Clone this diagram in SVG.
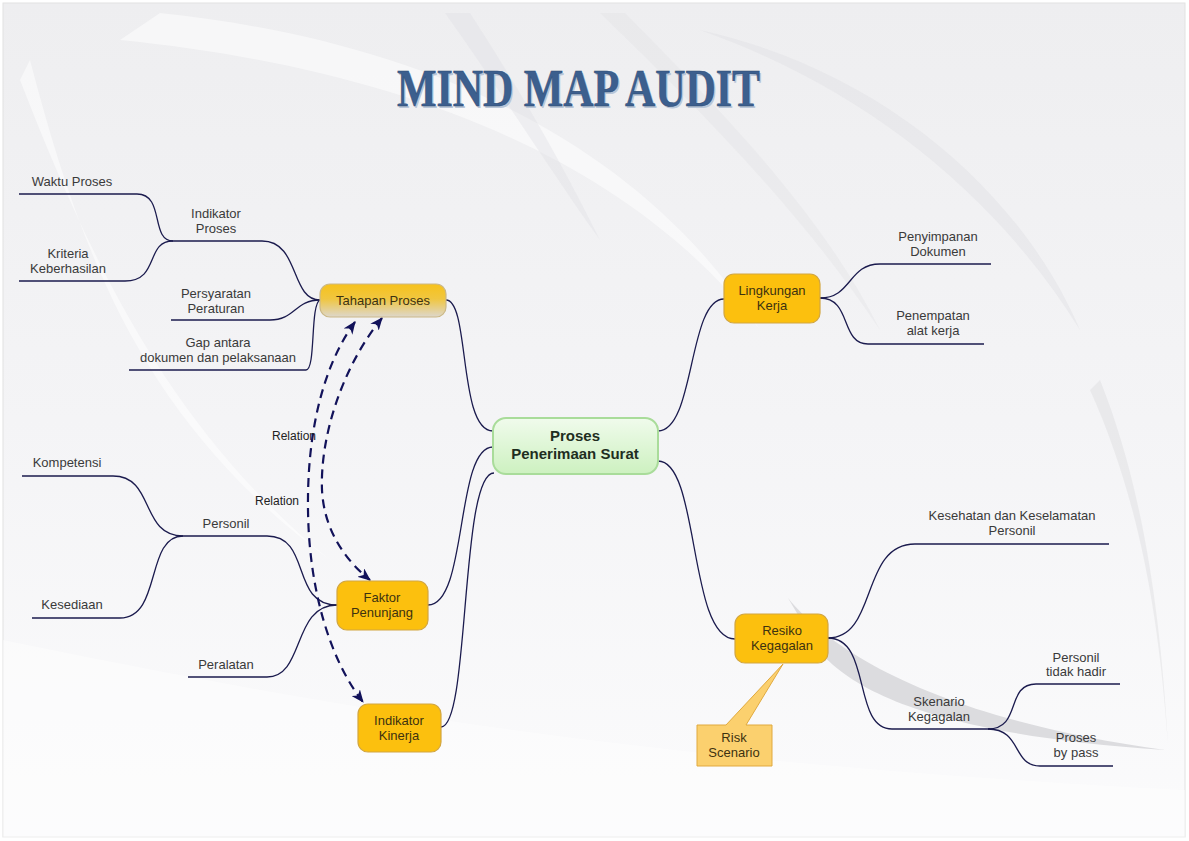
<svg xmlns="http://www.w3.org/2000/svg" width="1189" height="841" viewBox="0 0 1189 841">
<defs>
<linearGradient id="bg" x1="0" y1="0" x2="0" y2="1">
<stop offset="0" stop-color="#eeeef0"/>
<stop offset="0.5" stop-color="#f4f4f6"/>
<stop offset="1" stop-color="#fbfbfc"/>
</linearGradient>
<linearGradient id="tah" x1="0" y1="0" x2="0" y2="1">
<stop offset="0" stop-color="#f7c21c"/>
<stop offset="0.45" stop-color="#f0c640"/>
<stop offset="1" stop-color="#ddd7cc"/>
</linearGradient>
<linearGradient id="cen" x1="0" y1="0" x2="0" y2="1">
<stop offset="0" stop-color="#f0fbec"/>
<stop offset="1" stop-color="#cdf1c0"/>
</linearGradient>
<marker id="ah" viewBox="0 0 12 10" refX="11" refY="5" markerWidth="13" markerHeight="11" markerUnits="userSpaceOnUse" orient="auto-start-reverse">
<path d="M0,0 L12,5 L0,10 L3.5,5 Z" fill="#12125a"/>
</marker>
</defs>
<style>
.lbl{font-family:"Liberation Sans",Arial,sans-serif;font-size:13px;fill:#3a3a3a;text-anchor:middle}
.ntx{font-family:"Liberation Sans",Arial,sans-serif;font-size:13px;fill:#3d3210;text-anchor:middle}
.rel{font-family:"Liberation Sans",Arial,sans-serif;font-size:12px;fill:#222;text-anchor:middle}
.cn{fill:none;stroke:#1b1b4e;stroke-width:1.3}
.dash{fill:none;stroke:#12125a;stroke-width:2.2;stroke-dasharray:9,6}
.org{fill:#fcc00e;stroke:#d2a640;stroke-width:1.2}
</style>
<rect width="1189" height="841" fill="#ffffff"/>
<rect x="3" y="3" width="1182" height="834" fill="url(#bg)" stroke="#e2e2e2"/>
<g id="background">
<path d="M160,13 C420,40 640,140 760,330 C640,170 420,70 120,40 Z" fill="#ffffff" opacity="0.5"/>
<path d="M30,60 C80,250 140,420 330,560 C170,430 90,260 20,80 Z" fill="#ffffff" opacity="0.5"/>
<path d="M445,13 L470,13 C520,90 560,160 600,240 C550,170 500,90 445,13 Z" fill="#dedee1" opacity="0.35"/>
<path d="M600,13 L625,13 C720,110 820,210 880,330 C800,210 700,110 600,13 Z" fill="#dedee1" opacity="0.3"/>
<path d="M700,30 C880,70 1020,190 1080,330 C1000,200 870,90 700,30 Z" fill="#e2e2e5" opacity="0.5"/>
<path d="M1100,380 C1140,480 1160,600 1168,745 C1158,600 1135,490 1090,390 Z" fill="#dadadd" opacity="0.4"/>
<path d="M788,598 C840,662 960,722 1165,750 C960,736 862,700 820,652 Z" fill="#dcdcdf"/>
<path d="M3,640 C300,700 600,760 1185,790 L1185,838 L3,838 Z" fill="#ffffff" opacity="0.4"/>
</g>
<g id="title">
<text x="398.5" y="107.5" font-family="Liberation Serif,serif" font-weight="bold" font-size="52" textLength="363" lengthAdjust="spacingAndGlyphs" fill="#b9c6d8">MIND MAP AUDIT</text>
<text x="397" y="106" font-family="Liberation Serif,serif" font-weight="bold" font-size="52" textLength="363" lengthAdjust="spacingAndGlyphs" fill="#3c5f8e" stroke="#2d4a74" stroke-width="0.5">MIND MAP AUDIT</text>
</g>
<g id="connectors">
<path class="cn" d="M446,300 C470,300 458,431 493,431"/>
<path class="cn" d="M428,605 C468,605 455,447 493,447"/>
<path class="cn" d="M441,727 C470,727 460,473 494,473"/>
<path class="cn" d="M658,431 C695,431 688,299 724,299"/>
<path class="cn" d="M658,461 C700,461 688,639 735,639"/>
<path class="cn" d="M19,194 L137,194 C165,194 150,241 173,241 L262,241 C300,241 290,300 320,300"/>
<path class="cn" d="M19,281 L125,281 C160,281 145,241 173,241"/>
<path class="cn" d="M171,320 L270,320 C295,320 295,300 320,300"/>
<path class="cn" d="M129,370 L306,370 C316,370 310,304 320,300"/>
<path class="cn" d="M22,476 L113,476 C155,476 140,536 183,536 L267,536 C312,536 290,605 337,605"/>
<path class="cn" d="M32,618 L120,618 C162,618 145,536 183,536"/>
<path class="cn" d="M188,677 L267,677 C305,677 292,605 337,605"/>
<path class="cn" d="M820,298 C852,298 848,264 880,264 L991,264"/>
<path class="cn" d="M820,298 C852,298 840,344 868,344 L984,344"/>
<path class="cn" d="M828,638 C878,638 860,544 915,544 L1109,544"/>
<path class="cn" d="M828,638 C872,638 852,729 892,729 L990,729"/>
<path class="cn" d="M988,729 C1022,729 1005,684 1036,684 L1120,684"/>
<path class="cn" d="M988,729 C1022,729 1012,766 1040,766 L1113,766"/>
<path class="dash" d="M382,318 C340,370 320,440 322,490 C324,530 345,560 370,580" marker-start="url(#ah)" marker-end="url(#ah)"/>
<path class="dash" d="M355,322 C320,370 307,440 308,510 C309,590 330,660 363,702" marker-start="url(#ah)" marker-end="url(#ah)"/>
<text class="rel" x="294" y="440">Relation</text>
<text class="rel" x="277" y="505">Relation</text>
</g>
<g id="central">
<rect x="493" y="418" width="165" height="56" rx="13" fill="url(#cen)" stroke="#a9dc9a" stroke-width="2"/>
<text x="575" y="441" font-family="Liberation Sans,Arial,sans-serif" font-weight="bold" font-size="15" fill="#1f2e1f" text-anchor="middle">Proses</text>
<text x="575" y="459" font-family="Liberation Sans,Arial,sans-serif" font-weight="bold" font-size="15" fill="#1f2e1f" text-anchor="middle">Penerimaan Surat</text>
</g>
<g id="tahapan-proses">
<rect x="320" y="284" width="126" height="33" rx="10" fill="url(#tah)" stroke="#cbb886" stroke-width="1.2"/>
<text class="ntx" x="383" y="305">Tahapan Proses</text>
</g>
<g id="faktor-penunjang">
<rect class="org" x="337" y="581" width="91" height="49" rx="10"/>
<text class="ntx" x="382" y="602">Faktor</text>
<text class="ntx" x="382" y="617">Penunjang</text>
</g>
<g id="indikator-kinerja">
<rect class="org" x="358" y="704" width="83" height="48" rx="10"/>
<text class="ntx" x="399" y="725">Indikator</text>
<text class="ntx" x="399" y="740">Kinerja</text>
</g>
<g id="lingkungan-kerja">
<rect class="org" x="724" y="274" width="96" height="49" rx="10"/>
<text class="ntx" x="772" y="295">Lingkungan</text>
<text class="ntx" x="772" y="310">Kerja</text>
</g>
<g id="resiko-kegagalan">
<rect class="org" x="735" y="614" width="93" height="49" rx="10"/>
<text class="ntx" x="782" y="635">Resiko</text>
<text class="ntx" x="782" y="650">Kegagalan</text>
</g>
<g id="risk-scenario">
<path d="M697,725 L726,725 L783,664 L746,725 L772,725 L772,766 L697,766 Z" fill="#fbd06e" stroke="#e0a93e" stroke-width="1"/>
<text class="ntx" x="734" y="742" fill="#2e2a1a">Risk</text>
<text class="ntx" x="734" y="757" fill="#2e2a1a">Scenario</text>
</g>
<g id="waktu-proses"><text class="lbl" x="72" y="186">Waktu Proses</text></g>
<g id="indikator-proses"><text class="lbl" x="216" y="218">Indikator</text><text class="lbl" x="216" y="233">Proses</text></g>
<g id="kriteria-keberhasilan"><text class="lbl" x="68" y="258">Kriteria</text><text class="lbl" x="68" y="273">Keberhasilan</text></g>
<g id="persyaratan-peraturan"><text class="lbl" x="216" y="298">Persyaratan</text><text class="lbl" x="216" y="313">Peraturan</text></g>
<g id="gap-antara"><text class="lbl" x="218" y="347">Gap antara</text><text class="lbl" x="218" y="362" font-size="12">dokumen dan pelaksanaan</text></g>
<g id="kompetensi"><text class="lbl" x="67" y="467">Kompetensi</text></g>
<g id="personil"><text class="lbl" x="226" y="528">Personil</text></g>
<g id="kesediaan"><text class="lbl" x="72" y="609">Kesediaan</text></g>
<g id="peralatan"><text class="lbl" x="226" y="669">Peralatan</text></g>
<g id="penyimpanan-dokumen"><text class="lbl" x="938" y="241">Penyimpanan</text><text class="lbl" x="938" y="256">Dokumen</text></g>
<g id="penempatan-alat-kerja"><text class="lbl" x="933" y="320">Penempatan</text><text class="lbl" x="933" y="335">alat kerja</text></g>
<g id="kesehatan-keselamatan"><text class="lbl" x="1012" y="520">Kesehatan dan Keselamatan</text><text class="lbl" x="1012" y="535">Personil</text></g>
<g id="skenario-kegagalan"><text class="lbl" x="939" y="706">Skenario</text><text class="lbl" x="939" y="721">Kegagalan</text></g>
<g id="personil-tidak-hadir"><text class="lbl" x="1076" y="662">Personil</text><text class="lbl" x="1076" y="676">tidak hadir</text></g>
<g id="proses-by-pass"><text class="lbl" x="1076" y="742">Proses</text><text class="lbl" x="1076" y="757">by pass</text></g>
</svg>
